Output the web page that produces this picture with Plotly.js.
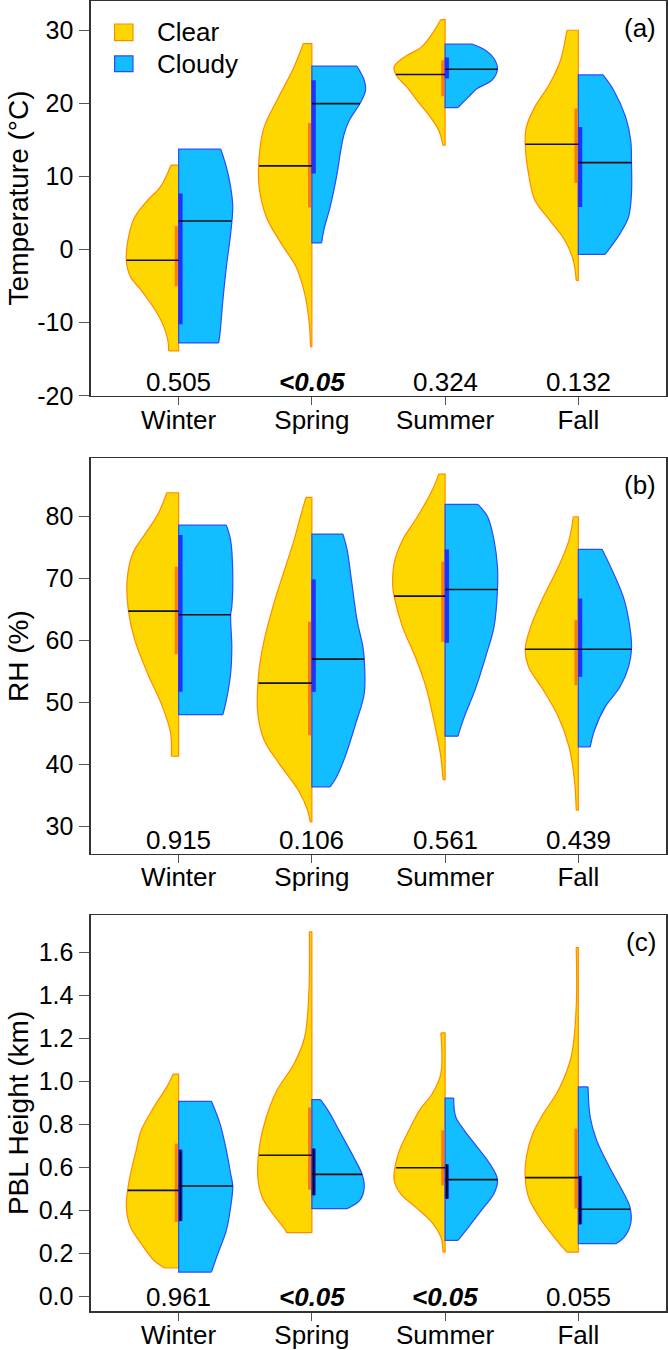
<!DOCTYPE html>
<html>
<head>
<meta charset="utf-8">
<script src="https://cdn.plot.ly/plotly-3.0.1.min.js"></script>
<style>html,body{margin:0;padding:0;background:#fff}</style>
</head>
<body>
<div id="chart" style="width:668px;height:1350px"></div>
<script>
/*
 * ~~~~~~~~~~~~~~~~~~~~~~~~~~~~~~~~~~~~~~~~~~~~~~~~
 * Data
 * profiles: [value, half width] from top to bottom
 * ~~~~~~~~~~~~~~~~~~~~~~~~~~~~~~~~~~~~~~~~~~~~~~~~
 */

const seasons = ['Winter', 'Spring', 'Summer', 'Fall'];

// (a) Temperature
const tempClear = [
  [[11.54,.058],[8.57,.137],[6.75,.233],[4.47,.329],[2.19,.371],[-1.46,.393],[-3.74,.361],[-5.56,.281],[-8.3,.175],[-10.6,.11],[-12.5,.08],[-13.86,.075]],
  [[28.18,.064],[24.99,.134],[20.43,.262],[16.78,.358],[12.68,.396],[8.57,.396],[4.47,.342],[0.82,.23],[-2.37,.118],[-6.02,.054],[-9.67,.022],[-13.3,.01]],
  [[31.46,.032],[30.0,.08],[27.72,.176],[26.36,.304],[24.99,.383],[23.85,.367],[22.25,.288],[19.97,.192],[18.15,.112],[16.32,.048],[14.27,.016]],
  [[30.0,.086],[25.9,.134],[22.71,.214],[19.52,.326],[16.78,.39],[14.5,.399],[10.4,.374],[6.75,.326],[4.01,.214],[1.28,.102],[-1.46,.038],[-4.2,.016]]
];
const tempCloudy = [
  [[13.73,.316],[11.3,.358],[8.57,.39],[5.84,.406],[2.19,.39],[-2.37,.358],[-6.93,.332],[-11.5,.31],[-12.77,.30]],
  [[25.08,.339],[23.16,.393],[21.8,.403],[19.97,.361],[17.69,.281],[15.87,.243],[13.59,.217],[9.94,.185],[5.84,.137],[2.64,.089],[0.91,.073]],
  [[28.09,.208],[27.27,.303],[26.13,.367],[24.67,.393],[23.16,.351],[22.02,.24],[20.88,.176],[19.43,.096]],
  [[23.89,.185],[21.8,.265],[18.15,.355],[14.96,.393],[11.9,.399],[7.66,.399],[4.47,.377],[2.19,.313],[-0.64,.201]]
];
const tempMedClear = [-1.46, 11.45, 23.94, 14.41];
const tempMedCloudy = [3.92, 19.97, 24.67, 11.9];
const tempQ1Clear = [-5.02, 5.75, 20.98, 9.12];
const tempQ3Clear = [3.19, 17.33, 25.9, 19.29];
const tempQ1Cloudy = [-10.2, 10.4, 23.39, 5.84];
const tempQ3Cloudy = [7.66, 23.16, 26.27, 16.78];
const tempP = ['0.505', '<0.05', '0.324', '0.132'];

// (b) RH
const rhClear = [
  [[83.82,.089],[80.48,.153],[77.26,.249],[74.03,.345],[69.73,.387],[64.73,.377],[60.05,.329],[54.68,.233],[49.3,.121],[45.0,.06],[41.34,.055]],
  [[83.06,.045],[79.95,.086],[76.18,.134],[71.88,.198],[66.5,.278],[60.05,.358],[54.68,.399],[48.23,.406],[43.92,.358],[40.16,.246],[35.86,.102],[32.63,.032],[30.75,.013]],
  [[86.83,.048],[84.25,.096],[79.95,.208],[76.18,.32],[72.42,.383],[68.66,.393],[67.15,.383],[62.2,.32],[57.37,.224],[52.53,.144],[46.61,.08],[41.24,.032],[37.58,.016]],
  [[79.95,.038],[76.18,.07],[71.88,.15],[67.04,.262],[62.2,.358],[58.6,.399],[55.75,.374],[51.99,.262],[47.69,.15],[42.85,.07],[37.47,.029],[32.63,.016]]
];
const rhCloudy = [
  [[78.6,.358],[76.18,.39],[70.8,.406],[65.43,.399],[64.14,.39],[58.98,.399],[54.68,.39],[50.38,.358],[48.06,.332]],
  [[77.15,.233],[74.57,.265],[69.73,.297],[63.28,.339],[58.98,.383],[56.99,.393],[51.45,.393],[46.61,.329],[41.24,.249],[38.0,.185],[36.4,.137]],
  [[81.94,.246],[79.95,.319],[76.18,.367],[71.88,.393],[68.23,.393],[62.2,.367],[57.37,.304],[51.99,.224],[47.69,.144],[44.57,.096]],
  [[74.68,.179],[70.8,.265],[66.5,.345],[61.13,.393],[58.6,.399],[55.75,.377],[52.53,.313],[49.3,.201],[45.54,.121],[42.85,.089]]
];
const rhMedClear = [64.73, 53.12, 67.15, 58.6];
const rhMedCloudy = [64.14, 56.99, 68.23, 58.6];
const rhQ1Clear = [57.8, 44.73, 59.78, 52.8];
const rhQ3Clear = [71.88, 63.01, 72.69, 63.28];
const rhQ1Cloudy = [51.72, 51.72, 59.62, 54.14];
const rhQ3Cloudy = [77.0, 69.84, 74.68, 66.77];
const rhP = ['0.915', '0.106', '0.561', '0.439'];

// (c) PBL height
const pblClear = [
  [[1.033,.042],[.974,.089],[.881,.185],[.772,.281],[.679,.319],[.571,.361],[.493,.383],[.415,.393],[.322,.361],[.245,.281],[.167,.185],[.132,.105]],
  [[1.695,.019],[1.423,.022],[1.206,.054],[1.082,.134],[.958,.262],[.834,.342],[.71,.39],[.555,.406],[.462,.374],[.384,.294],[.307,.198],[.296,.192]],
  [[1.225,.032],[1.036,.032],[.943,.096],[.865,.192],[.772,.272],[.664,.351],[.54,.383],[.478,.335],[.416,.224],[.353,.112],[.276,.032],[.206,.016]],
  [[1.622,.016],[1.346,.016],[1.113,.054],[.958,.15],[.85,.262],[.757,.342],[.648,.39],[.555,.399],[.462,.374],[.369,.294],[.276,.182],[.206,.086]]
];
const pblCloudy = [
  [[.907,.246],[.803,.31],[.679,.358],[.571,.39],[.513,.406],[.415,.39],[.307,.358],[.198,.294],[.113,.246]],
  [[.915,.064],[.865,.121],[.757,.217],[.648,.313],[.567,.377],[.509,.393],[.447,.361],[.408,.265]],
  [[.922,.064],[.834,.08],[.772,.144],[.695,.24],[.617,.335],[.543,.393],[.478,.367],[.4,.272],[.322,.176],[.26,.096]],
  [[.974,.073],[.834,.089],[.726,.137],[.602,.233],[.493,.329],[.416,.387],[.338,.393],[.276,.345],[.245,.281]]
];
const pblMedClear = [.493, .656, .598, .552];
const pblMedCloudy = [.513, .567, .543, .405];
const pblQ1Clear = [.346, .496, .516, .408];
const pblQ3Clear = [.71, .878, .772, .78];
const pblQ1Cloudy = [.35, .47, .454, .335];
const pblQ3Cloudy = [.682, .687, .614, .56];
const pblP = ['0.961', '<0.05', '<0.05', '0.055'];

/*
 * ~~~~~~~~~~~~~~~~~~~~~~~~~~~~~~~~~~~~~~~~~~~~~~~~
 * Styles
 * ~~~~~~~~~~~~~~~~~~~~~~~~~~~~~~~~~~~~~~~~~~~~~~~~
 */

const FONT = 'Liberation Sans, Arial, sans-serif';
const CLEAR = {fill: '#FFD700', line: '#FF8C00', bar: '#FF7A00'};
const CLOUDY = {fill: '#12BEFF', line: '#2A4BFF', bar: '#1E32FF'};
const XRANGE = [0.342, 4.658];

const panels = [
  {suffix: '', clear: tempClear, cloudy: tempCloudy,
    medClear: tempMedClear, medCloudy: tempMedCloudy,
    q1Clear: tempQ1Clear, q3Clear: tempQ3Clear, q1Cloudy: tempQ1Cloudy, q3Cloudy: tempQ3Cloudy,
    p: tempP, label: '(a)', title: 'Temperature (°C)', domain: [0.6986, 1],
    range: [-20, 34], ticks: [-20, -10, 0, 10, 20, 30], digits: 0, darkBar: false},
  {suffix: '2', clear: rhClear, cloudy: rhCloudy,
    medClear: rhMedClear, medCloudy: rhMedCloudy,
    q1Clear: rhQ1Clear, q3Clear: rhQ3Clear, q1Cloudy: rhQ1Cloudy, q3Cloudy: rhQ3Cloudy,
    p: rhP, label: '(b)', title: 'RH (%)', domain: [0.3492, 0.6508],
    range: [25.65, 89.35], ticks: [30, 40, 50, 60, 70, 80], digits: 0, darkBar: false},
  {suffix: '3', clear: pblClear, cloudy: pblCloudy,
    medClear: pblMedClear, medCloudy: pblMedCloudy,
    q1Clear: pblQ1Clear, q3Clear: pblQ3Clear, q1Cloudy: pblQ1Cloudy, q3Cloudy: pblQ3Cloudy,
    p: pblP, label: '(c)', title: 'PBL Height (km)', domain: [0, 0.3021],
    range: [-0.068, 1.772], ticks: [0, .2, .4, .6, .8, 1, 1.2, 1.4, 1.6], digits: 1, darkBar: true}
];

/*
 * ~~~~~~~~~~~~~~~~~~~~~~~~~~~~~~~~~~~~~~~~~~~~~~~~
 * Helpers
 * ~~~~~~~~~~~~~~~~~~~~~~~~~~~~~~~~~~~~~~~~~~~~~~~~
 */

// half width of a profile at value v
const widthAt = (prof, v) => {
  for (let k = 0; k < prof.length - 1; k++) {
    const [y0, w0] = prof[k];
    const [y1, w1] = prof[k + 1];
    if (v <= y0 && v >= y1) return w0 + (w1 - w0) * (v - y0) / (y1 - y0);
  }
  return 0;
};

// one half violin = straight frame (flat ends + centre line) + smooth edge filled to it
const halfViolin = (prof, center, side, style, xa, ya) => {
  const first = prof[0];
  const last = prof[prof.length - 1];
  const frame = {
    type: 'scatter', mode: 'lines', xaxis: xa, yaxis: ya,
    x: [center + side * first[1], center, center, center + side * last[1]],
    y: [first[0], first[0], last[0], last[0]],
    line: {color: style.line, width: 1.2},
    hoverinfo: 'skip', showlegend: false
  };
  const edge = {
    type: 'scatter', mode: 'lines', xaxis: xa, yaxis: ya,
    x: prof.map(p => center + side * p[1]),
    y: prof.map(p => p[0]),
    fill: 'tonextx', fillcolor: style.fill,
    line: {color: style.line, width: 1.2, shape: 'spline', smoothing: 1},
    hoverinfo: 'skip', showlegend: false
  };
  return [frame, edge];
};

const tickText = (v, digits) => v.toFixed(digits);

/*
 * ~~~~~~~~~~~~~~~~~~~~~~~~~~~~~~~~~~~~~~~~~~~~~~~~
 * Build
 * ~~~~~~~~~~~~~~~~~~~~~~~~~~~~~~~~~~~~~~~~~~~~~~~~
 */

const traces = [];
const annotations = [];
const shapes = [];
const layout = {
  width: 668, height: 1350,
  margin: {l: 91, r: 2, t: 1, b: 39},
  paper_bgcolor: '#fff', plot_bgcolor: '#fff',
  font: {family: FONT, color: '#000', size: 25},
  showlegend: false
};

panels.forEach(pn => {
  const xa = 'x' + pn.suffix;
  const ya = 'y' + pn.suffix;
  const medX = [], medY = [];
  const barClearX = [], barClearY = [], barCloudyX = [], barCloudyY = [];

  seasons.forEach((s, i) => {
    const c = i + 1;
    traces.push(...halfViolin(pn.clear[i], c, -1, CLEAR, xa, ya));
    traces.push(...halfViolin(pn.cloudy[i], c, 1, CLOUDY, xa, ya));

    medX.push(c - widthAt(pn.clear[i], pn.medClear[i]), c, null);
    medY.push(pn.medClear[i], pn.medClear[i], null);
    medX.push(c, c + widthAt(pn.cloudy[i], pn.medCloudy[i]), null);
    medY.push(pn.medCloudy[i], pn.medCloudy[i], null);

    barClearX.push(c - 0.018, c - 0.018, null);
    barClearY.push(pn.q1Clear[i], pn.q3Clear[i], null);
    barCloudyX.push(c + 0.013, c + 0.013, null);
    barCloudyY.push(pn.q1Cloudy[i], pn.q3Cloudy[i], null);

    const bold = pn.p[i].startsWith('<');
    const txt = pn.p[i].replace('<', '&lt;');
    annotations.push({
      xref: xa, yref: ya + ' domain', x: c, y: 0,
      xanchor: 'center', yanchor: 'bottom', yshift: -3,
      text: bold ? '<b><i>' + txt + '</i></b>' : txt,
      showarrow: false, font: {size: 26}
    });
  });

  traces.push({type: 'scatter', mode: 'lines', xaxis: xa, yaxis: ya, x: barClearX, y: barClearY,
    line: {color: CLEAR.bar, width: 3}, hoverinfo: 'skip', showlegend: false});
  traces.push({type: 'scatter', mode: 'lines', xaxis: xa, yaxis: ya, x: barCloudyX, y: barCloudyY,
    line: {color: CLOUDY.bar, width: 4.3}, hoverinfo: 'skip', showlegend: false});
  if (pn.darkBar) {
    traces.push({type: 'scatter', mode: 'lines', xaxis: xa, yaxis: ya, x: barCloudyX, y: barCloudyY,
      line: {color: '#050510', width: 2}, hoverinfo: 'skip', showlegend: false});
  }
  traces.push({type: 'scatter', mode: 'lines', xaxis: xa, yaxis: ya, x: medX, y: medY,
    line: {color: '#111', width: 1.6}, hoverinfo: 'skip', showlegend: false});

  layout['xaxis' + pn.suffix] = {
    anchor: ya, domain: [0, 1], range: XRANGE,
    tickmode: 'array', tickvals: [1, 2, 3, 4], ticktext: seasons,
    ticks: 'outside', ticklen: 8, tickwidth: 1.2, tickcolor: '#555',
    ticklabelstandoff: -8,
    showline: true, mirror: true, linecolor: '#333', linewidth: 1.6,
    showgrid: false, zeroline: false, tickfont: {size: 26}, fixedrange: true
  };
  layout['yaxis' + pn.suffix] = {
    anchor: xa, domain: pn.domain, range: pn.range,
    tickmode: 'array', tickvals: pn.ticks, ticktext: pn.ticks.map(v => tickText(v, pn.digits)),
    ticks: 'outside', ticklen: 10, tickwidth: 1.2, tickcolor: '#555',
    ticklabelstandoff: 1,
    showline: true, mirror: true, linecolor: '#333', linewidth: 1.6,
    showgrid: false, zeroline: false, tickfont: {size: 25}, fixedrange: true
  };

  // panel label
  annotations.push({
    xref: xa + ' domain', yref: ya + ' domain', x: 1, y: 1,
    xanchor: 'right', yanchor: 'top', xshift: -8, yshift: -10,
    text: pn.label, showarrow: false, font: {size: 26}
  });
  // y title
  annotations.push({
    xref: 'paper', yref: ya + ' domain', x: 0, y: 0.5,
    xanchor: 'center', yanchor: 'middle', xshift: -73,
    textangle: -90, text: pn.title, showarrow: false, font: {size: 28}
  });
});

// legend in panel (a)
[[CLEAR, 'Clear', 0.9417, 0.8994], [CLOUDY, 'Cloudy', 0.8608, 0.8211]].forEach(([st, name, y1, y0]) => {
  shapes.push({type: 'rect', xref: 'x domain', yref: 'y domain',
    x0: 0.041, x1: 0.073, y0: y0, y1: y1,
    fillcolor: st.fill, line: {color: st.line, width: 1.2}});
  annotations.push({xref: 'x domain', yref: 'y domain', x: 0.112, y: (y0 + y1) / 2,
    xanchor: 'left', yanchor: 'middle', text: name, showarrow: false, font: {size: 26}});
});

layout.annotations = annotations;
layout.shapes = shapes;

Plotly.newPlot('chart', traces, layout, {displayModeBar: false, staticPlot: true});
</script>
</body>
</html>
